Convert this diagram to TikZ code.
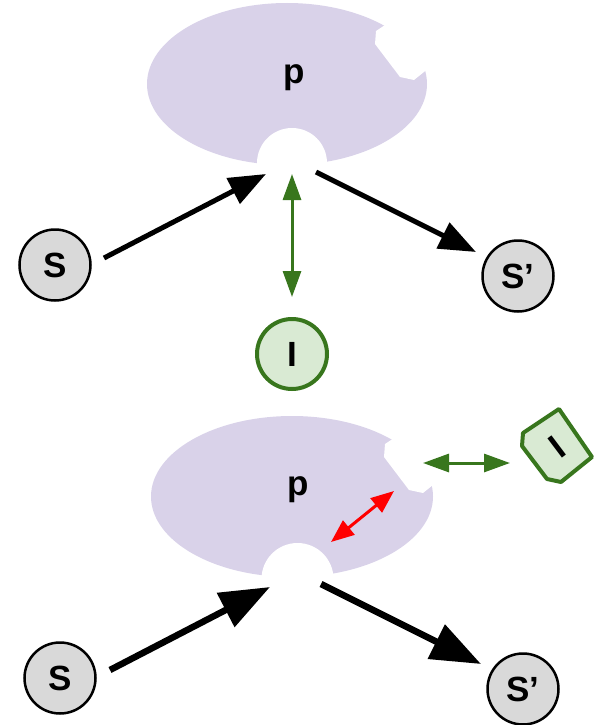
\documentclass[tikz,border=0pt]{standalone}
\usepackage{fontspec}
\setmainfont{Liberation Sans}
\usetikzlibrary{arrows.meta,shapes.geometric}
\definecolor{lilac}{HTML}{D9D2E9}
\definecolor{greyfill}{HTML}{D9D9D9}
\definecolor{leaf}{HTML}{D9EAD3}
\definecolor{leafdark}{HTML}{38761D}
\begin{document}
\begin{tikzpicture}[x=1pt,y=-1pt,
  bigfont/.style={font=\fontsize{35}{35}\selectfont\bfseries},
  blob/.style={ellipse, fill=lilac, inner sep=0pt},
  hole/.style={circle, fill=white, inner sep=0pt},
  species/.style={circle, draw=black, line width=2.5pt, fill=greyfill,
    minimum size=71pt, inner sep=0pt, bigfont},
  ligand/.style={circle, draw=leafdark, line width=4pt, fill=leaf,
    minimum size=70pt, inner sep=0pt, bigfont},
  tagged/.style={draw=leafdark, fill=leaf, line width=4pt, line join=round},
  ishape/.pic={\path[pic actions] (-24,-46) -- (-25,-33) -- (0,0) -- (14,3)
    -- (45,-22) -- (12,-70) -- cycle;},
  flow/.style={line width=5pt, -{Triangle[length=37pt,width=28pt]}},
  flowbig/.style={line width=6.5pt, -{Triangle[length=50pt,width=37pt]}},
  bind/.style={draw=leafdark, line width=3pt,
    {Triangle[length=26pt,width=18pt]}-{Triangle[length=26pt,width=18pt]}},
  clash/.style={draw=red, line width=3pt,
    {Triangle[length=23pt,width=18pt]}-{Triangle[length=23pt,width=18pt]}}
]
\useasboundingbox (0,0) rectangle (598,725);

% ---------- upper scheme: enzyme with free ligand ----------
\node[blob, minimum width=280pt, minimum height=162pt] (P1) at (287,84) {};
\node[hole, minimum size=70pt] (H1) at (292,163) {};
\pic[fill=white] at (400,77) {ishape};
\node[bigfont, anchor=base] (p1) at (294,83) {p};

\node[species] (S1) at (55,265) {S};
\node[species] (T1) at (518,276) {S’};
\node[ligand] (I1) at (292,354) {I};

\coordinate (a1s) at (104,258);
\coordinate (a1e) at (266,174);
\coordinate (b1s) at (316,172);
\coordinate (b1e) at (476,252);
\coordinate (g1s) at (292,174);
\coordinate (g1e) at (292,297);

\draw[flow] (a1s) -- (a1e);
\draw[flow] (b1s) -- (b1e);
\draw[bind] (g1s) -- (g1e);

% ---------- lower scheme: ligand bound at allosteric site ----------
\node[blob, minimum width=282pt, minimum height=161pt] (P2) at (292,496.5) {};
\node[hole, minimum size=72pt] (H2) at (297.5,579) {};
\pic[fill=white] at (409,490) {ishape};
\node[bigfont, anchor=base] (p2) at (298,495) {p};

% the ligand in its locked, tilted form
\draw[tagged] (523,433) -- (522,446) -- (547,479) -- (561,482)
  -- (592,457) -- (559,409) -- cycle;
\node[bigfont, rotate=37] (I2) at (557,447) {I};

\node[species] (S2) at (60,678) {S};
\node[species] (T2) at (523,689) {S’};

\coordinate (a2s) at (110,670);
\coordinate (a2e) at (270,587);
\coordinate (b2s) at (321,584);
\coordinate (b2e) at (481,664);
\coordinate (g2s) at (423,463);
\coordinate (g2e) at (510,463);
\coordinate (r2s) at (331,542);
\coordinate (r2e) at (394,491);

\draw[flowbig] (a2s) -- (a2e);
\draw[flowbig] (b2s) -- (b2e);
\draw[bind] (g2s) -- (g2e);
\draw[clash] (r2s) -- (r2e);
\end{tikzpicture}
\end{document}
